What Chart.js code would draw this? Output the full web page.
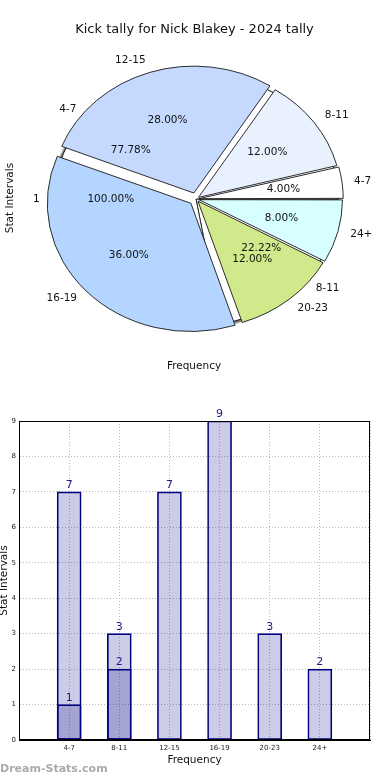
<!DOCTYPE html>
<html>
<head>
<meta charset="utf-8">
<script src="https://cdn.jsdelivr.net/npm/chart.js@4.4.1/dist/chart.umd.min.js"></script>
<style>
  html, body { margin: 0; padding: 0; background: #fff; }
  #page { position: relative; width: 390px; height: 780px; overflow: hidden; }
  .layer { position: absolute; left: 0; top: 0; }
  #barCanvas { position: absolute; left: 0; top: 400px; }
  #mark { position: absolute; left: 0; top: 762px; font: bold 11px "DejaVu Sans", sans-serif; color: #aaa; }
</style>
</head>
<body>
<div id="page">
  <canvas id="pieBackB" class="layer" width="390" height="394"></canvas>
  <canvas id="pieBackA" class="layer" width="390" height="394"></canvas>
  <canvas id="pieMain" class="layer" width="390" height="394"></canvas>
  <canvas id="barCanvas" width="390" height="370"></canvas>
  <div id="mark">Dream-Stats.com</div>
</div>
<script>
var chartTitle = "Kick tally for Nick Blakey - 2024 tally";

// pie (main)
var pieLabels = ["4-7", "8-11", "12-15", "16-19", "20-23", "24+"];
var pieValues = [1, 3, 7, 9, 3, 2];
var pieColors = ["#ffffff", "#e9f1ff", "#c5d9ff", "#b4d5ff", "#d0e98b", "#d8ffff"];
var pieExplode = [3, 3, 7, 7, 3, 3];

// pies drawn underneath
var backLabelsA = ["4-7", "8-11"];
var backValuesA = [7, 2];
var backLabelsB = ["1"];
var backValuesB = [1];

// bars
var barLabels = ["4-7", "8-11", "12-15", "16-19", "20-23", "24+"];
var barValues = [7, 3, 7, 9, 3, 2];
var barValues2 = [1, 2, null, null, null, null];
var yMax = 9;

var FONT = '"DejaVu Sans", sans-serif';
var SQUASH = 0.893, RADIUS = 142;

var squashPlugin = {
  id: 'squash',
  beforeDatasetsDraw: function(chart, args, opts) {
    var a = chart.chartArea, ctx = chart.ctx;
    var cx = (a.left + a.right) / 2, cy = (a.top + a.bottom) / 2;
    ctx.save();
    ctx.translate(cx, cy);
    ctx.scale(1, SQUASH);
    ctx.translate(-cx, -cy);
    if (opts && opts.shadow) {
      ctx.shadowColor = opts.shadow;
      ctx.shadowOffsetX = -3;
      ctx.shadowOffsetY = 3;
      ctx.shadowBlur = 1.5;
    }
  },
  afterDatasetsDraw: function(chart) {
    chart.ctx.restore();
  }
};

function rev(a) { return a.slice().reverse(); }

function makePie(id, labels, values, colors, explode, shadow) {
  var offs = explode ? rev(explode).map(function(e) { return e * 4; }) : 0;
  return new Chart(document.getElementById(id), {
    type: 'pie',
    data: {
      labels: rev(labels),
      datasets: [{
        data: rev(values),
        backgroundColor: rev(colors),
        borderColor: '#222',
        borderWidth: 1,
        offset: offs
      }]
    },
    options: {
      responsive: false,
      animation: false,
      events: [],
      rotation: 90,
      radius: RADIUS,
      layout: { padding: { left: 2, top: 4 } },
      plugins: {
        legend: { display: false },
        tooltip: { enabled: false },
        squash: { shadow: shadow }
      }
    },
    plugins: [squashPlugin]
  });
}

function drawPieLabels(ctx, chart, labels, values, explode) {
  var meta = chart.getDatasetMeta(0);
  var total = values.reduce(function(s, v) { return s + v; }, 0);
  var n = labels.length;
  ctx.font = '10.5px ' + FONT;
  ctx.fillStyle = '#111';
  ctx.textBaseline = 'middle';
  meta.data.forEach(function(arc, j) {
    var i = n - 1 - j;
    var mid = (arc.startAngle + arc.endAngle) / 2;
    var off = explode ? explode[i] : 0;
    var r = arc.outerRadius;
    var c = Math.cos(mid), s = Math.sin(mid);
    ctx.textAlign = c > 0 ? 'left' : 'right';
    ctx.fillText(labels[i], arc.x + c * (1.1 * r + off), arc.y + s * (1.1 * r + off) * SQUASH);
    ctx.textAlign = 'center';
    var pct = (values[i] / total * 100).toFixed(2) + '%';
    ctx.fillText(pct, arc.x + c * (0.6 * r + off), arc.y + s * (0.6 * r + off) * SQUASH);
  });
}

var backB = makePie('pieBackB', backLabelsB, backValuesB, ['#ffffff'], null, 'rgba(0,0,0,0.5)');
var backA = makePie('pieBackA', backLabelsA, backValuesA, ['#ffffff', '#ffffff'], null, false);

var mainTexts = {
  id: 'mainTexts',
  afterDraw: function(chart) {
    var ctx = chart.ctx;
    ctx.save();
    ctx.fillStyle = '#111';
    ctx.textAlign = 'center';
    ctx.textBaseline = 'middle';
    ctx.font = '13px ' + FONT;
    ctx.fillText(chartTitle, 194.5, 30);
    ctx.font = '10.5px ' + FONT;
    ctx.fillText('Frequency', 194, 366);
    ctx.save();
    ctx.translate(10, 198);
    ctx.rotate(-Math.PI / 2);
    ctx.fillText('Stat Intervals', 0, 0);
    ctx.restore();
    drawPieLabels(ctx, backB, backLabelsB, backValuesB, null);
    drawPieLabels(ctx, backA, backLabelsA, backValuesA, null);
    drawPieLabels(ctx, chart, pieLabels, pieValues, pieExplode);
    ctx.restore();
  }
};

var mainPie = makePie('pieMain', pieLabels, pieValues, pieColors, pieExplode, false);
mainPie.config.plugins.push(mainTexts);
mainPie.update();

// bar chart
var frame = {
  id: 'frame',
  afterDraw: function(chart) {
    var a = chart.chartArea, ctx = chart.ctx;
    ctx.save();
    ctx.strokeStyle = '#000';
    ctx.lineWidth = 1;
    ctx.strokeRect(Math.round(a.left) + 0.5, Math.round(a.top) + 0.5,
      Math.round(a.right - a.left) - 1, Math.round(a.bottom - a.top) - 1);
    ctx.restore();
  }
};

var valueLabels = {
  id: 'valueLabels',
  afterDatasetsDraw: function(chart) {
    var ctx = chart.ctx;
    ctx.save();
    ctx.font = '11px ' + FONT;
    ctx.fillStyle = '#1a1a8c';
    ctx.textAlign = 'center';
    ctx.textBaseline = 'bottom';
    chart.data.datasets.forEach(function(ds, k) {
      chart.getDatasetMeta(k).data.forEach(function(bar, i) {
        var v = ds.data[i].y;
        if (v === null) return;
        ctx.fillText(String(v), bar.x, bar.y - 1);
      });
    });
    ctx.restore();
  }
};

function points(vals) {
  return vals.map(function(v, i) { return { x: i, y: v }; });
}

var borderStyle = { display: true, color: '#000', width: 1, dash: [1, 2] };

new Chart(document.getElementById('barCanvas'), {
  type: 'bar',
  data: {
    datasets: [{
      data: points(barValues2),
      backgroundColor: 'rgba(0,0,128,0.2)',
      borderColor: '#000080',
      borderWidth: 1,
      borderSkipped: false,
      grouped: false,
      barThickness: 24
    }, {
      data: points(barValues),
      backgroundColor: 'rgba(0,0,128,0.2)',
      borderColor: '#000080',
      borderWidth: 1,
      borderSkipped: false,
      grouped: false,
      barThickness: 24
    }]
  },
  options: {
    responsive: false,
    animation: false,
    events: [],
    layout: { padding: { top: 21, right: 20, left: 0, bottom: 0 } },
    plugins: { legend: { display: false }, tooltip: { enabled: false } },
    scales: {
      x: {
        type: 'linear',
        offset: false,
        min: -1,
        max: barLabels.length,
        ticks: {
          stepSize: 1,
          autoSkip: false,
          maxRotation: 0,
          padding: 4,
          color: '#222',
          font: { size: 7, family: FONT },
          callback: function(v) { return barLabels[v] !== undefined ? barLabels[v] : ''; }
        },
        grid: { color: '#b8b8b8', drawTicks: false, offset: false },
        border: borderStyle,
        title: { display: true, text: 'Frequency', color: '#111', font: { size: 10.5, family: FONT }, padding: { top: 0, bottom: 3 } },
        afterFit: function(s) { s.height = 30; }
      },
      y: {
        min: 0,
        max: yMax,
        ticks: { stepSize: 1, padding: 3, color: '#222', font: { size: 7, family: FONT } },
        grid: { color: '#b8b8b8', drawTicks: false },
        border: borderStyle,
        title: { display: true, text: 'Stat Intervals', color: '#111', font: { size: 10.5, family: FONT }, padding: { top: -2, bottom: 0 } },
        afterFit: function(s) { s.width = 19; }
      }
    }
  },
  plugins: [frame, valueLabels]
});
</script>
</body>
</html>
